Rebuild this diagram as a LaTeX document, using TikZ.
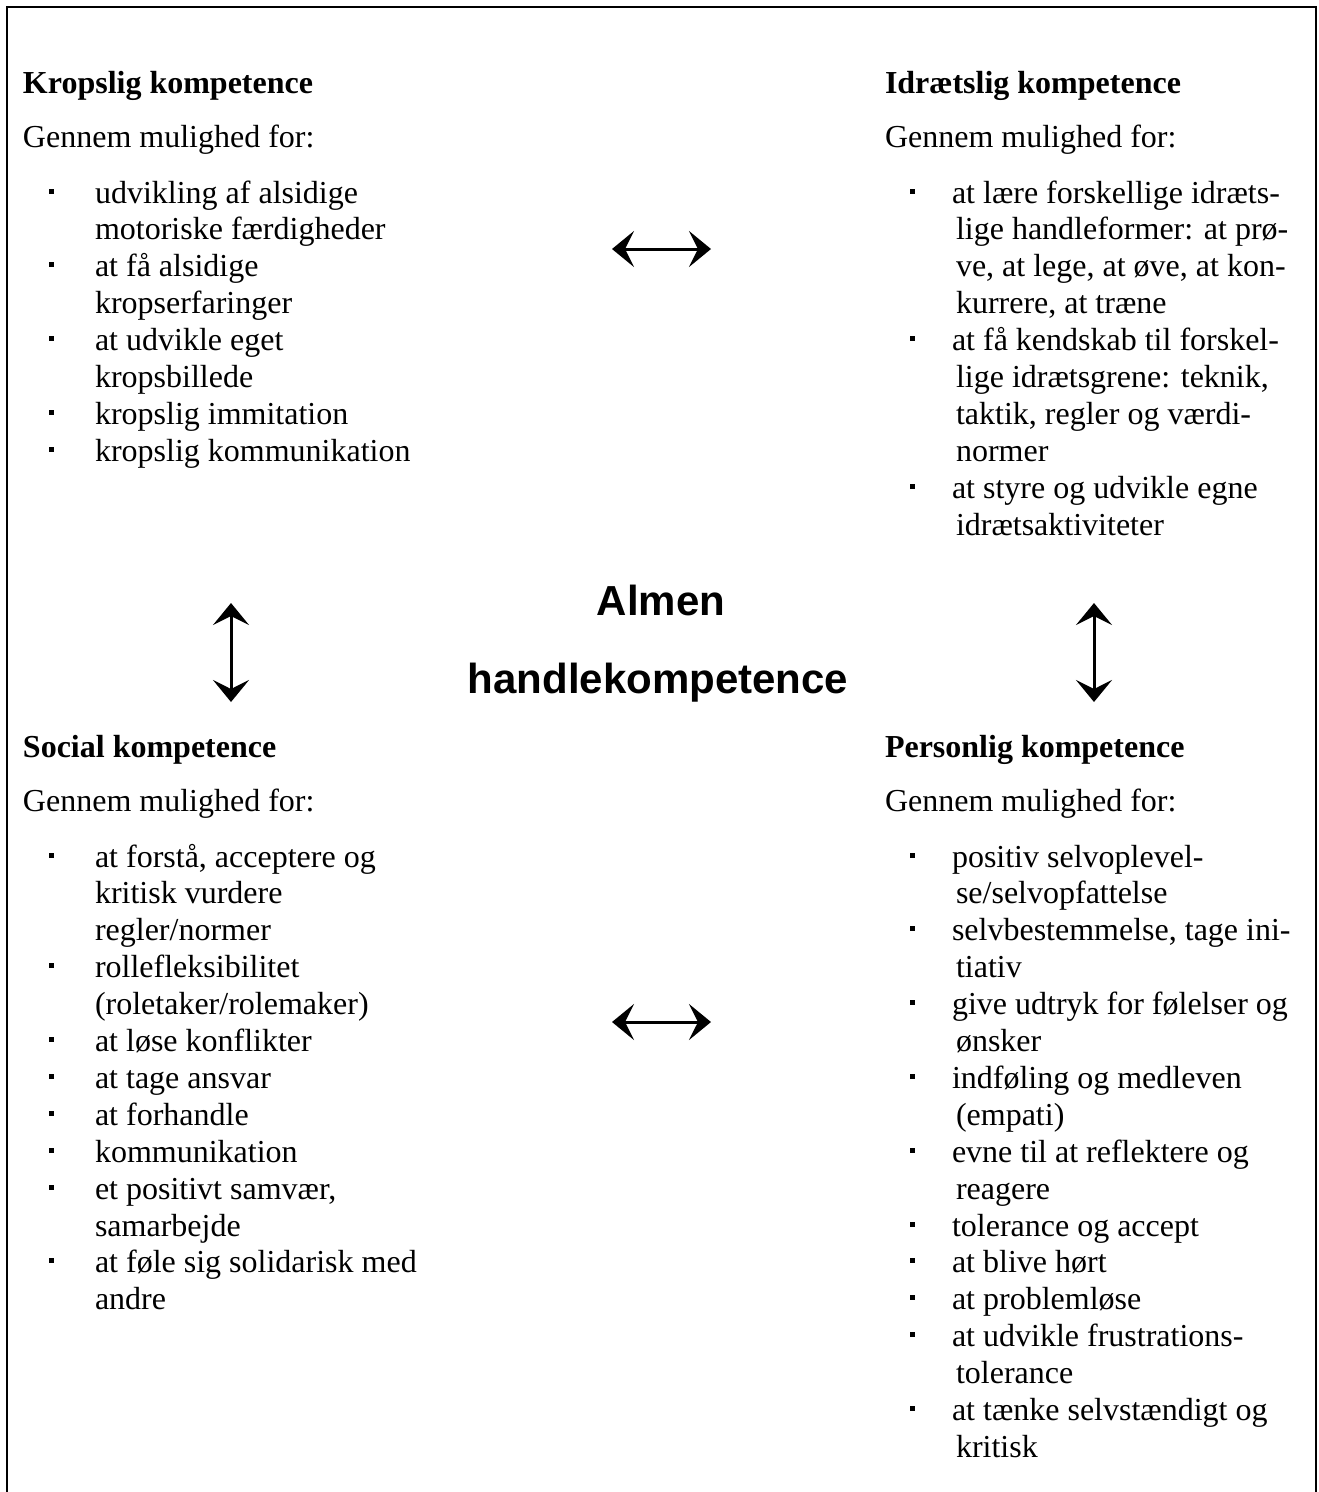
\documentclass[tikz,border=0pt]{standalone}
\usepackage{fontspec}
\setmainfont{Liberation Serif}
\newfontfamily\centerfont{Liberation Sans}
\usetikzlibrary{arrows.meta}
\tikzset{
  txt/.style={anchor=base west, inner sep=0pt, outer sep=0pt, font=\fontsize{32}{37}\selectfont},
  hdtxt/.style={txt, font=\fontsize{32}{37}\selectfont\bfseries},
  blt/.style={rectangle, fill=black, inner sep=0pt, minimum size=5pt},
  ctr/.style={anchor=base, inner sep=0pt, font=\centerfont\bfseries\fontsize{42}{48}\selectfont},
  frame/.style={line width=2.5pt},
  dbl/.style={line width=3pt, {Stealth[length=22pt,width=36pt,inset=9pt]}-{Stealth[length=22pt,width=36pt,inset=9pt]}}
}
\newcommand\qcol[6]{%
  \foreach \k/\t [count=\i from 0] in {#6} {
    \ifnum\k=1
      \def\xx{#3}
      \node[blt] (#1b\i) at (#2,{#5+36.9*\i-12}) {};
    \else
      \def\xx{#4}
    \fi
    \node[txt] (#1\i) at (\xx,{#5+36.9*\i}) {\t};
  }}
\begin{document}
\begin{tikzpicture}[x=1pt,y=-1pt]
\useasboundingbox (0,0) rectangle (1319,1492);
\draw[frame] (7,1492) -- (7,7) -- (1316,7) -- (1316,1492);

% Top left
\node[hdtxt] (kh) at (23,93) {Kropslig kompetence};
\node[txt] (kg) at (23,147) {Gennem mulighed for:};
\qcol{kl}{51}{95}{95}{203}{1/{udvikling af alsidige},0/{motoriske færdigheder},1/{at få alsidige},0/{kropserfaringer},1/{at udvikle eget},0/{kropsbillede},1/{kropslig immitation},1/{kropslig kommunikation}}

% Top right
\node[hdtxt] (ih) at (885,93) {Idrætslig kompetence};
\node[txt] (ig) at (885,147) {Gennem mulighed for:};
\qcol{il}{912}{952}{956}{203}{1/{at lære forskellige idræts-},0/{lige handleformer: at prø-},0/{ve, at lege, at øve, at kon-},0/{kurrere, at træne},1/{at få kendskab til forskel-},0/{lige idrætsgrene: teknik,},0/{taktik, regler og værdi-},0/{normer},1/{at styre og udvikle egne},0/{idrætsaktiviteter}}

% Bottom left
\node[hdtxt] (sh) at (23,757) {Social kompetence};
\node[txt] (sg) at (23,811) {Gennem mulighed for:};
\qcol{sl}{51}{95}{95}{867}{1/{at forstå, acceptere og},0/{kritisk vurdere},0/{regler/normer},1/{rollefleksibilitet},0/{(roletaker/rolemaker)},1/{at løse konflikter},1/{at tage ansvar},1/{at forhandle},1/{kommunikation},1/{et positivt samvær,},0/{samarbejde},1/{at føle sig solidarisk med},0/{andre}}

% Bottom right
\node[hdtxt] (ph) at (885,757) {Personlig kompetence};
\node[txt] (pg) at (885,811) {Gennem mulighed for:};
\qcol{pl}{912}{952}{956}{867}{1/{positiv selvoplevel-},0/{se/selvopfattelse},1/{selvbestemmelse, tage ini-},0/{tiativ},1/{give udtryk for følelser og},0/{ønsker},1/{indføling og medleven},0/{(empati)},1/{evne til at reflektere og},0/{reagere},1/{tolerance og accept},1/{at blive hørt},1/{at problemløse},1/{at udvikle frustrations-},0/{tolerance},1/{at tænke selvstændigt og},0/{kritisk}}

% Centre
\node[ctr] (alm) at (661,615) {Almen};
\node[ctr] (hk) at (658,693) {handlekompetence};

% Arrows
\coordinate (ta) at (612,249); \coordinate (tb) at (711,249);
\coordinate (ba) at (612,1022); \coordinate (bb) at (711,1022);
\coordinate (la) at (231,603); \coordinate (lb) at (231,702);
\coordinate (ra) at (1094,603); \coordinate (rb) at (1094,702);
\draw[dbl] (ta) -- (tb);
\draw[dbl] (ba) -- (bb);
\draw[dbl] (la) -- (lb);
\draw[dbl] (ra) -- (rb);
\end{tikzpicture}
\end{document}
